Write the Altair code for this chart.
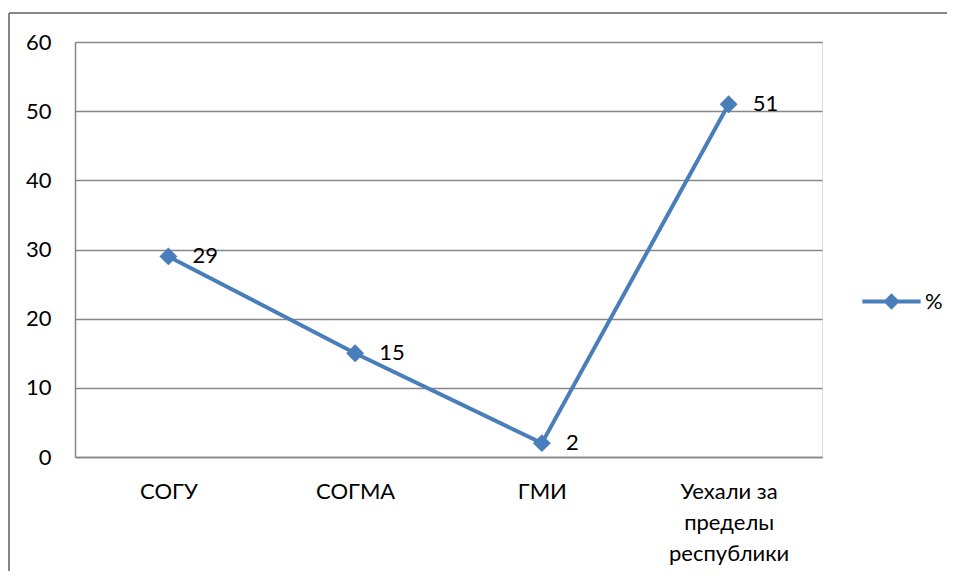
import altair as alt
import pandas as pd

categories = ["СОГУ", "СОГМА", "ГМИ", "Уехали за\nпределы\nреспублики"]
values = [29, 15, 2, 51]
series_name = "%"
y_ticks = [0, 10, 20, 30, 40, 50, 60]

df = pd.DataFrame({"cat": categories, "val": values, "series": [series_name] * len(values)})

BLUE = "#4A7EBB"
GRID = "#868686"
FONT = "Lato"

W, H = 747, 415
PL, PT = 67, 34

x_enc = alt.X("cat:N", sort=categories,
              scale=alt.Scale(type="point", padding=0.5),
              axis=alt.Axis(title=None, labelAngle=0, ticks=False, domain=True,
                            domainColor=GRID, domainWidth=1.5, grid=False,
                            labelPadding=24, labelFontSize=22, labelFont=FONT,
                            labelColor="#000000", labelLineHeight=31,
                            labelBaseline="top",
                            labelExpr="split(datum.label, '\\n')"))
y_enc = alt.Y("val:Q", scale=alt.Scale(domain=[0, 60], nice=False, zero=True),
              axis=alt.Axis(title=None, values=y_ticks, ticks=False, domain=True,
                            domainColor=GRID, domainWidth=1.5, grid=True,
                            gridColor=GRID, gridWidth=1.5, labelPadding=24,
                            labelFontSize=22, labelFont=FONT, labelColor="#000000"))

legend_path = ("M-1,-0.07 L1,-0.07 L1,0.07 L-1,0.07 Z "
               "M0,-0.28 L0.28,0 L0,0.28 L-0.28,0 Z")

line = alt.Chart(df).mark_line(strokeWidth=4, color=BLUE).encode(
    x=x_enc, y=y_enc,
    color=alt.Color("series:N", scale=alt.Scale(range=[BLUE]),
                    legend=alt.Legend(title=None, orient="none", legendX=787, legendY=230,
                                      symbolType=legend_path, symbolSize=3400,
                                      symbolFillColor=BLUE, symbolStrokeWidth=0,
                                      labelFontSize=22, labelFont=FONT,
                                      labelColor="#000000", labelOffset=4)))

points = alt.Chart(df).mark_point(shape="diamond", filled=True, size=320,
                                  color=BLUE, opacity=1).encode(x=x_enc, y=y_enc)

labels = alt.Chart(df).mark_text(align="left", baseline="middle", dx=24, fontSize=22,
                                 font=FONT, color="#000000").encode(
    x=x_enc, y=y_enc, text="val:Q")

border_left = alt.Chart(df).mark_rule(color=GRID, strokeWidth=1.5).encode(
    x=alt.value(-66), y=alt.value(-29), y2=alt.value(H + 130))
border_top = alt.Chart(df).mark_rule(color=GRID, strokeWidth=1.5).encode(
    x=alt.value(-66), x2=alt.value(W + 140), y=alt.value(-29))

chart = alt.layer(border_left, border_top, line, points, labels).properties(
    width=W, height=H,
    autosize=alt.AutoSizeParams(type="none"),
    padding={"left": PL, "top": PT, "right": 125, "bottom": 114},
).configure_view(stroke=None).configure(background="white")

chart.save("out.html", embed_options={"renderer": "svg", "actions": False})
